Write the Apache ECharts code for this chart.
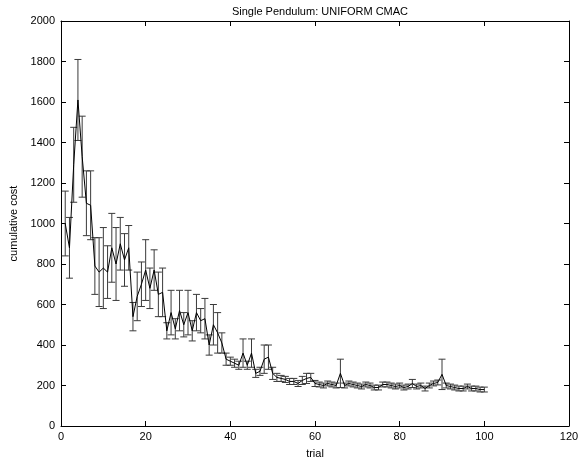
<!DOCTYPE html>
<html>
<head>
<meta charset="utf-8">
<script src="https://cdn.jsdelivr.net/npm/echarts@6/dist/echarts.min.js"></script>
<style>html,body{margin:0;padding:0;background:#fff}#c{width:585px;height:464px}</style>
</head>
<body>
<div id="c"></div>
<script>
var trials = [];
for (var i = 1; i <= 100; i++) trials.push(i);

var meanCost = [
  1000, 880, 1290, 1610, 1330, 1100, 1090, 790, 760, 780,
  760, 880, 800, 900, 820, 880, 540, 640, 700, 770,
  680, 770, 650, 660, 470, 560, 480, 570, 500, 560,
  470, 560, 520, 530, 400, 500, 460, 410, 330, 320,
  310, 300, 360, 300, 360, 260, 270, 330, 340, 260,
  240, 235, 230, 220, 220, 210, 225, 235, 240, 210,
  205, 200, 210, 205, 200, 260, 200, 210, 205, 200,
  195, 205, 200, 190, 190, 205, 205, 200, 195, 200,
  190, 195, 210, 195, 200, 185, 200, 210, 215, 255,
  200, 195, 190, 185, 185, 195, 185, 185, 180, 180
];

var errCost = [
  160, 150, 185, 200, 200, 160, 170, 140, 170, 200,
  130, 170, 180, 130, 130, 110, 70, 120, 110, 150,
  100, 100, 110, 120, 40, 110, 50, 100, 60, 110,
  50, 90, 60, 100, 50, 100, 100, 50, 30, 20,
  20, 20, 70, 20, 70, 20, 20, 70, 60, 30,
  20, 15, 15, 15, 15, 15, 20, 25, 20, 15,
  12, 12, 12, 12, 12, 70, 12, 12, 12, 12,
  12, 12, 12, 12, 12, 12, 12, 12, 12, 12,
  12, 12, 20, 12, 12, 12, 12, 12, 12, 75,
  12, 12, 12, 12, 12, 12, 12, 12, 12, 12
];

var xTicks = [0, 20, 40, 60, 80, 100, 120];
var yTicks = [0, 200, 400, 600, 800, 1000, 1200, 1400, 1600, 1800, 2000];

var lineData = trials.map(function (t, i) { return [t, meanCost[i]]; });
var errData = trials.map(function (t, i) { return [t, meanCost[i] - errCost[i], meanCost[i] + errCost[i]]; });

var font = 'Liberation Sans, Arial, sans-serif';
function plain(v) { return String(v); }
function axisCommon() {
  return {
    axisLine: { show: true, onZero: false, lineStyle: { color: '#000', width: 1 } },
    axisTick: { show: true, inside: true, length: 5, lineStyle: { color: '#000' } },
    splitLine: { show: false }
  };
}

var chart = echarts.init(document.getElementById('c'), null, { renderer: 'canvas' });
chart.setOption({
  animation: false,
  backgroundColor: '#fff',
  title: {
    text: 'Single Pendulum: UNIFORM CMAC',
    left: 315, top: 1, textAlign: 'center',
    textStyle: { fontFamily: font, fontSize: 11, fontWeight: 'normal', color: '#000' }
  },
  grid: { left: 61, right: 16, top: 21, bottom: 37 },
  xAxis: [
    Object.assign(axisCommon(), {
      type: 'value', min: xTicks[0], max: xTicks[xTicks.length - 1], interval: 20,
      position: 'bottom',
      name: 'trial', nameLocation: 'middle', nameGap: 22,
      nameTextStyle: { fontFamily: font, fontSize: 11, color: '#000' },
      axisLabel: { fontFamily: font, fontSize: 11, color: '#000', margin: 5, formatter: plain }
    }),
    Object.assign(axisCommon(), {
      type: 'value', min: xTicks[0], max: xTicks[xTicks.length - 1], interval: 20,
      position: 'top', axisLabel: { show: false }
    })
  ],
  yAxis: [
    Object.assign(axisCommon(), {
      type: 'value', min: yTicks[0], max: yTicks[yTicks.length - 1], interval: 200,
      position: 'left',
      name: 'cumulative cost', nameLocation: 'middle', nameGap: 40,
      nameTextStyle: { fontFamily: font, fontSize: 11, color: '#000' },
      axisLabel: { fontFamily: font, fontSize: 11, color: '#000', margin: 6, formatter: plain }
    }),
    Object.assign(axisCommon(), {
      type: 'value', min: yTicks[0], max: yTicks[yTicks.length - 1], interval: 200,
      position: 'right', axisLabel: { show: false }
    })
  ],
  series: [
    {
      type: 'custom',
      xAxisIndex: 0, yAxisIndex: 0,
      data: errData,
      encode: { x: 0, y: [1, 2] },
      renderItem: function (params, api) {
        var x = api.value(0);
        var lo = api.coord([x, api.value(1)]);
        var hi = api.coord([x, api.value(2)]);
        var hw = 3.5;
        var st = { stroke: '#3a3a3a', lineWidth: 1 };
        return {
          type: 'group',
          children: [
            { type: 'line', shape: { x1: lo[0], y1: lo[1], x2: hi[0], y2: hi[1] }, style: st },
            { type: 'line', shape: { x1: lo[0] - hw, y1: lo[1], x2: lo[0] + hw, y2: lo[1] }, style: st },
            { type: 'line', shape: { x1: hi[0] - hw, y1: hi[1], x2: hi[0] + hw, y2: hi[1] }, style: st }
          ]
        };
      },
      z: 2
    },
    {
      type: 'line',
      xAxisIndex: 0, yAxisIndex: 0,
      data: lineData,
      showSymbol: false,
      symbol: 'none',
      lineStyle: { color: '#000', width: 1 },
      z: 3
    }
  ]
});
</script>
</body>
</html>
